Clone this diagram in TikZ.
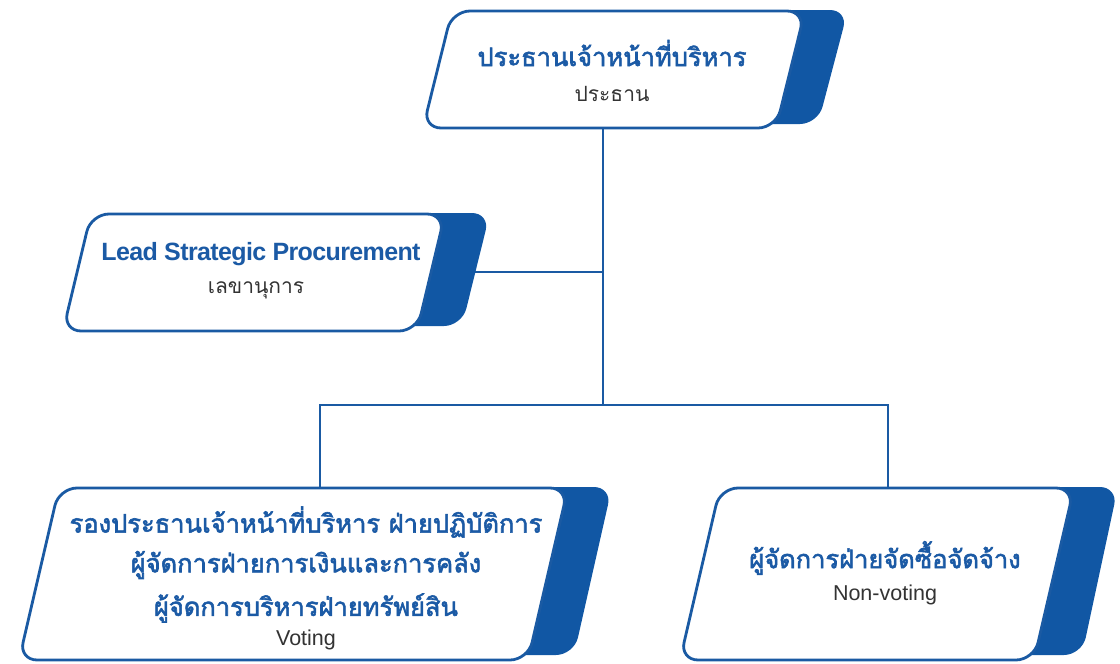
\documentclass[tikz,border=0pt]{standalone}
\usepackage{fontspec}
\setmainfont{Liberation Sans}
\newfontfamily\thai[Script=Thai]{Loma}
\newfontfamily\thaibold[Script=Thai, FakeBold=2.2]{Loma}
\newfontfamily\tightsans[LetterSpace=-2.5]{Liberation Sans}
\definecolor{bord}{HTML}{1A5AA3}
\definecolor{shad}{HTML}{1157A4}
\definecolor{ttl}{HTML}{1B5AA5}
\definecolor{sub}{HTML}{333333}
\tikzset{
  conn/.style={draw=bord, line width=2pt},
  boxshape/.style={draw=bord, line width=2.8pt, fill=white, rounded corners=18pt},
  shadshape/.style={fill=shad, rounded corners=18pt},
  title/.style={text=ttl, font=\thaibold\fontsize{25.5}{30}\selectfont, align=center, inner sep=0pt},
  subt/.style={text=sub, font=\thai\fontsize{21}{24}\selectfont, inner sep=0pt},
  subl/.style={text=sub, font=\fontsize{21.5}{24}\selectfont, inner sep=0pt}
}
\begin{document}
\begin{tikzpicture}[x=1pt,y=-1pt]
\useasboundingbox (0,0) rectangle (1120,664);
% connectors
\coordinate (ceoB) at (603,120);
\coordinate (lspR) at (470,272);
\coordinate (j) at (603,405);
\coordinate (vpT) at (320,495);
\coordinate (pmT) at (888,495);
\draw[conn] (ceoB) -- (j);
\draw[conn] (lspR) -- (lspR -| ceoB);
\draw[conn] (vpT) |- (j) -| (pmT);
% top box
\path[shadshape] (650,10) -- (848,10) -- (818,124) -- (470,124) -- (500,10) -- cycle;
\path[boxshape] (628,11) -- (805,11) -- (776,128) -- (423,128) -- (452,11) -- cycle;
\node[title] (ceo) at (612,53) {ประธานเจ้าหน้าที่บริหาร};
\node[subt] (ceosub) at (612,94) {ประธาน};
% left box
\path[shadshape] (300,213) -- (490,213) -- (462,326) -- (110,326) -- (138,213) -- cycle;
\path[boxshape] (260,214) -- (445,214) -- (417,331) -- (63,331) -- (91,214) -- cycle;
\node[text=ttl, font=\tightsans\bfseries\fontsize{25}{28}\selectfont, inner sep=0pt] (lsp) at (261,254) {Lead Strategic Procurement};
\node[subt] (lspsub) at (256,290) {เลขานุการ};
% bottom-left box
\path[shadshape] (350,487) -- (612,487) -- (574,655) -- (60,655) -- (100,487) -- cycle;
\path[boxshape] (310,488) -- (568,488) -- (528,660) -- (19,660) -- (59,488) -- cycle;
\node[title] (vp1) at (306,522) {รองประธานเจ้าหน้าที่บริหาร ฝ่ายปฏิบัติการ};
\node[title] (vp2) at (306,565) {ผู้จัดการฝ่ายการเงินและการคลัง};
\node[title] (vp3) at (306,608) {ผู้จัดการบริหารฝ่ายทรัพย์สิน};
\node[subl] (vpsub) at (306,640) {Voting};
% bottom-right box
\path[shadshape] (900,487) -- (1118,487) -- (1082,655) -- (720,655) -- (760,487) -- cycle;
\path[boxshape] (890,488) -- (1074,488) -- (1034,660) -- (680,660) -- (720,488) -- cycle;
\node[title] (pm) at (885,558) {ผู้จัดการฝ่ายจัดซื้อจัดจ้าง};
\node[subl] (pmsub) at (885,595) {Non-voting};
\end{tikzpicture}
\end{document}
